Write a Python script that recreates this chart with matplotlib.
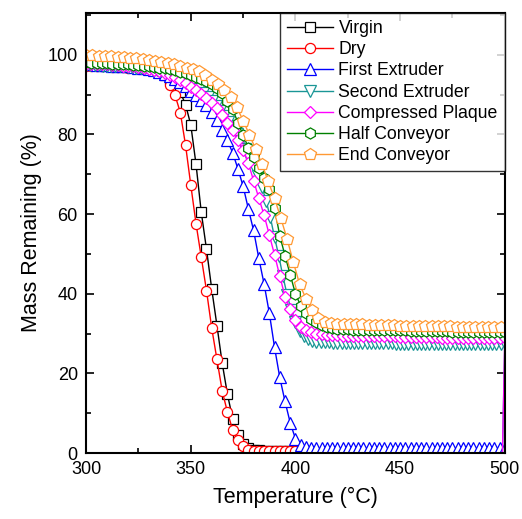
import numpy as np
import matplotlib
matplotlib.use("Agg")
import matplotlib.pyplot as plt
from matplotlib.ticker import MultipleLocator

plt.rcParams['font.family'] = ['Liberation Sans', 'DejaVu Sans']

# temperature grids (sampling of each run)
t_short = np.arange(300, 400.1, 2.5)     # Virgin, Dry
t_25 = np.arange(300, 500.1, 2.5)        # First Extruder, Compressed Plaque, Half Conveyor
t_2 = np.arange(300, 500.1, 2.0)         # Second Extruder
t_3 = np.arange(300, 498.1, 3.0)         # End Conveyor
end_T = 498.9                            # last logged point, mass falls to 0
end_mass = 0.0

virgin = [97.8, 97.7, 97.7, 97.6, 97.5, 97.4, 97.3, 97.2, 97.1, 97.0,
          96.8, 96.6, 96.4, 96.1, 95.6, 94.9, 93.8, 92.4, 90.6, 87.5,
          82.4, 72.5, 60.5, 51.2, 41.2, 32.0, 22.6, 14.8, 8.6, 4.6,
          2.3, 1.3, 0.9, 0.7, 0.6, 0.5, 0.5, 0.5, 0.4, 0.4, 0.4]

dry = [97.3, 97.3, 97.2, 97.2, 97.1, 97.0, 97.0, 96.9, 96.8, 96.7,
       96.6, 96.5, 96.4, 96.3, 95.9, 95.0, 92.5, 89.8, 85.5, 77.3,
       67.3, 57.6, 49.2, 40.8, 31.4, 23.5, 15.6, 10.3, 5.8, 3.4,
       1.7, 0.8, 0.5, 0.4, 0.4, 0.4, 0.4, 0.4, 0.4, 0.4, 0.4]

first_extruder = [97.6, 97.6, 97.5, 97.5, 97.4, 97.3, 97.3, 97.2, 97.1, 97.0,
                  96.8, 96.6, 96.4, 96.1, 95.7, 95.2, 94.6, 93.9, 93.1, 92.2,
                  91.0, 89.9, 88.7, 87.4, 85.7, 83.6, 81.2, 78.5, 75.4, 71.4,
                  67.0, 61.3, 55.9, 48.9, 42.5, 35.2, 26.6, 19.0, 13.0, 7.6,
                  3.6, 2.1, 1.5, 1.3, 1.2, 1.2, 1.2, 1.2, 1.2, 1.2,
                  1.2, 1.2, 1.2, 1.2, 1.2, 1.2, 1.2, 1.2, 1.2, 1.2,
                  1.2, 1.2, 1.2, 1.2, 1.2, 1.2, 1.2, 1.2, 1.2, 1.2,
                  1.2, 1.2, 1.2, 1.2, 1.2, 1.2, 1.2, 1.2, 1.2, 1.2, 1.2]

second_extruder = [97.5, 97.5, 97.4, 97.4, 97.3, 97.3, 97.2, 97.2, 97.1, 97.1,
                   97.0, 96.9, 96.8, 96.7, 96.6, 96.5, 96.3, 96.1, 95.9, 95.7,
                   95.4, 95.0, 94.6, 94.1, 93.5, 92.9, 92.2, 91.4, 90.5, 89.5,
                   88.4, 87.2, 85.9, 84.6, 83.2, 81.7, 80.0, 78.3, 76.4, 74.2,
                   71.9, 69.5, 66.8, 63.3, 59.2, 54.2, 49.6, 44.4, 39.8, 35.8,
                   32.9, 30.6, 29.3, 28.6, 28.2, 28.0, 27.9, 27.8, 27.8, 27.7,
                   27.7, 27.7, 27.7, 27.7, 27.7, 27.6, 27.6, 27.6, 27.6, 27.6,
                   27.6, 27.6, 27.6, 27.6, 27.5, 27.5, 27.5, 27.5, 27.5, 27.5,
                   27.5, 27.5, 27.5, 27.4, 27.4, 27.4, 27.4, 27.4, 27.4, 27.4,
                   27.4, 27.4, 27.4, 27.3, 27.3, 27.3, 27.3, 27.3, 27.3, 27.3, 27.3]

compressed_plaque = [97.8, 97.8, 97.7, 97.7, 97.6, 97.5, 97.4, 97.3, 97.2, 97.1,
                     96.9, 96.7, 96.5, 96.2, 95.9, 95.5, 95.0, 94.4, 93.7, 92.9,
                     92.0, 91.1, 90.2, 89.2, 88.0, 86.6, 84.9, 82.9, 81.0, 78.6,
                     76.2, 72.8, 68.4, 64.0, 59.8, 54.8, 49.8, 44.5, 39.3, 36.1,
                     33.3, 31.6, 30.8, 30.3, 30.0, 29.8, 29.7, 29.6, 29.6, 29.5,
                     29.5, 29.5, 29.4, 29.4, 29.4, 29.4, 29.3, 29.3, 29.3, 29.3,
                     29.2, 29.2, 29.2, 29.2, 29.1, 29.1, 29.1, 29.1, 29.0, 29.0,
                     29.0, 29.0, 28.9, 28.9, 28.9, 28.9, 28.8, 28.8, 28.8, 28.8, 28.8]

half_conveyor = [98.1, 98.0, 98.0, 97.9, 97.9, 97.8, 97.7, 97.7, 97.6, 97.5,
                 97.4, 97.3, 97.2, 97.0, 96.8, 96.6, 96.4, 96.1, 95.8, 95.4,
                 95.0, 94.5, 93.9, 93.3, 92.6, 91.6, 90.3, 88.5, 86.3, 83.0,
                 79.8, 76.7, 74.3, 71.5, 69.0, 66.2, 61.5, 54.6, 49.6, 44.8,
                 40.0, 37.0, 35.2, 33.7, 32.8, 32.1, 31.7, 31.4, 31.2, 31.1,
                 31.1, 31.0, 31.0, 31.0, 30.9, 30.9, 30.9, 30.9, 30.8, 30.8,
                 30.8, 30.8, 30.7, 30.7, 30.7, 30.7, 30.6, 30.6, 30.6, 30.6,
                 30.5, 30.5, 30.5, 30.5, 30.4, 30.4, 30.4, 30.4, 30.4, 30.3, 30.3]

end_conveyor = [100.0, 99.9, 99.8, 99.7, 99.6, 99.5, 99.4, 99.3, 99.1, 98.9,
                98.7, 98.5, 98.2, 97.9, 97.6, 97.2, 96.8, 96.4, 95.9, 95.0,
                93.7, 92.6, 91.2, 89.3, 86.8, 83.5, 79.9, 76.3, 72.6, 68.2,
                64.0, 59.0, 53.8, 47.9, 42.4, 38.8, 35.8, 33.9, 33.0, 32.6,
                32.5, 32.4, 32.4, 32.3, 32.3, 32.2, 32.2, 32.1, 32.1, 32.1,
                32.0, 32.0, 32.0, 31.9, 31.9, 31.9, 31.8, 31.8, 31.8, 31.7,
                31.7, 31.7, 31.7, 31.6, 31.6, 31.6, 31.6]

labels = ["Virgin", "Dry", "First Extruder", "Second Extruder",
          "Compressed Plaque", "Half Conveyor", "End Conveyor"]


def with_drop(t, m):
    return np.append(t, end_T), np.append(m, end_mass)


# (temps, mass, marker, colour, marker size, drops to 0 at end)
series = [
    (t_short, virgin, 's', '#000000', 6.8, False),
    (t_short, dry, 'o', '#ff0000', 7.3, False),
    (t_25, first_extruder, '^', '#0000ff', 8.0, True),
    (t_2, second_extruder, 'v', '#1a9696', 8.0, True),
    (t_25, compressed_plaque, 'D', '#ff00ff', 6.6, True),
    (t_25, half_conveyor, 'h', '#008000', 8.0, False),
    (t_3, end_conveyor, 'p', '#ff9933', 9.0, False),
]

fig = plt.figure(figsize=(5.22, 5.19), dpi=100)
ax = fig.add_axes([0.165, 0.127, 0.802, 0.848])

for (t, m, mk, c, ms, drop), lab in zip(series, labels):
    n = len(m)
    if drop:
        t, m = with_drop(t, m)
    ax.plot(t, m, color=c, lw=1.0, marker=mk, ms=ms, mfc='white', mec=c,
            mew=0.9, markevery=list(range(n)), label=lab)

ax.set_xlim(300, 500)
ax.set_ylim(0, 110.5)
ax.xaxis.set_major_locator(MultipleLocator(50))
ax.xaxis.set_minor_locator(MultipleLocator(25))
ax.yaxis.set_major_locator(MultipleLocator(20))
ax.yaxis.set_minor_locator(MultipleLocator(10))
ax.tick_params(which='both', direction='in', top=True, right=True,
               labeltop=False, labelright=False, width=1.2)
ax.tick_params(which='major', length=6, labelsize=13, pad=6)
ax.tick_params(which='minor', length=3.5)
for sp in ax.spines.values():
    sp.set_linewidth(1.5)

ax.set_xlabel("Temperature (°C)", fontsize=15.5, labelpad=6)
ax.set_ylabel("Mass Remaining (%)", fontsize=15.5, labelpad=4)

leg = ax.legend(loc='upper right', fontsize=12.7, frameon=True, fancybox=False,
                edgecolor='black', borderaxespad=0, handlelength=2.6,
                handletextpad=0.3, labelspacing=0.24, borderpad=0.4)
leg.get_frame().set_linewidth(1.0)

fig.savefig("out.png", dpi=100)
